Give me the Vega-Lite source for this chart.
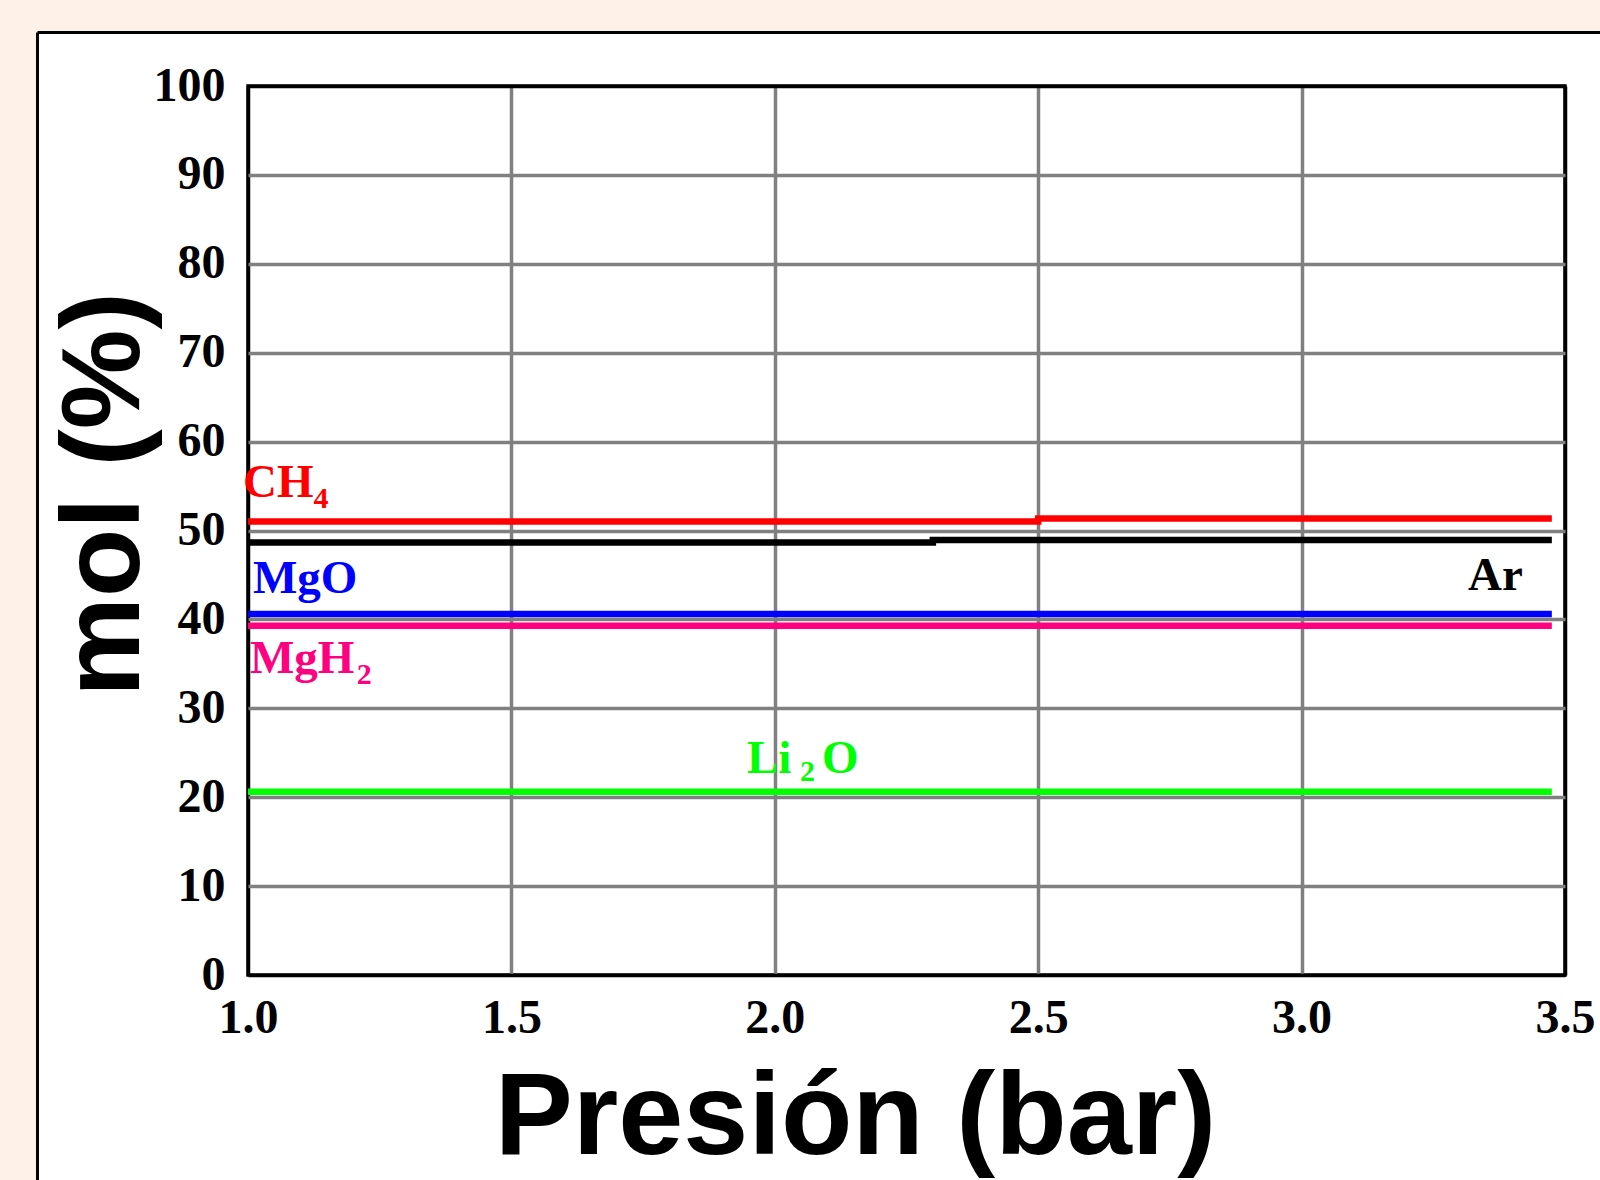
{
  "$schema": "https://vega.github.io/schema/vega-lite/v6.json",
  "width": 1317,
  "height": 889,
  "autosize": {"type": "none"},
  "padding": {"left": 248, "top": 86, "right": 35, "bottom": 205},
  "background": "white",
  "config": {
    "view": {"stroke": "black", "strokeWidth": 3.5, "fill": "white"}
  },
  "datasets": {
    "series": [
      {"species": "CH4", "x": 1, "y": 51.0},
      {"species": "CH4", "x": 2.5, "y": 51.36},
      {"species": "CH4", "x": 3.475, "y": 51.36},
      {"species": "Ar", "x": 1, "y": 48.64},
      {"species": "Ar", "x": 2.3, "y": 48.93},
      {"species": "Ar", "x": 3.475, "y": 48.93},
      {"species": "MgO", "x": 1, "y": 40.6},
      {"species": "MgO", "x": 3.475, "y": 40.6},
      {"species": "MgH2", "x": 1, "y": 39.28},
      {"species": "MgH2", "x": 3.475, "y": 39.28},
      {"species": "Li2O", "x": 1, "y": 20.6},
      {"species": "Li2O", "x": 3.475, "y": 20.6}
    ],
    "labels": [
      {"species": "CH4", "label": "CH", "x": 0.9905, "y": 53.8},
      {"species": "MgO", "label": "MgO", "x": 1.0095, "y": 43.0},
      {"species": "MgH2", "label": "MgH", "x": 1.0038, "y": 33.99},
      {"species": "Li2O", "label": "Li", "x": 1.9472, "y": 22.73},
      {"species": "Li2O", "label": "O", "x": 2.0896, "y": 22.73},
      {"species": "Ar", "label": "Ar", "x": 3.3159, "y": 43.33}
    ],
    "subs": [
      {"species": "CH4", "label": "4", "x": 1.1245, "y": 52.56},
      {"species": "MgH2", "label": "2", "x": 1.2065, "y": 32.75},
      {"species": "Li2O", "label": "2", "x": 2.0478, "y": 21.83}
    ],
    "strips": [
      {"x": 0.5, "x2": 3.7, "y": 106.13, "y2": 112},
      {"x": 0.5, "x2": 0.5976, "y": -30, "y2": 112}
    ],
    "frame": [
      {"x": 0.6004, "x2": 3.7, "y": 106.02, "y2": 106.02},
      {"x": 0.6004, "x2": 0.6004, "y": 106.02, "y2": -30}
    ]
  },
  "encoding": {
    "x": {
      "field": "x",
      "type": "quantitative",
      "scale": {"domain": [1, 3.5], "nice": false, "zero": false},
      "axis": {
        "title": "Presión (bar)",
        "values": [1, 1.5, 2, 2.5, 3, 3.5],
        "format": ".1f",
        "grid": true,
        "gridColor": {"condition": {"test": "datum.value === 1 || datum.value === 3.5", "value": "black"}, "value": "#808080"},
        "gridWidth": 3.5,
        "gridOpacity": 1,
        "domain": false,
        "ticks": false,
        "tickSize": 0,
        "labelFont": "Liberation Serif",
        "labelFontWeight": "bold",
        "labelFontSize": 48,
        "labelColor": "black",
        "labelPadding": 19,
        "labelOverlap": false,
        "labelBound": false,
        "labelFlush": false,
        "titleFont": "Liberation Sans",
        "titleFontWeight": "bold",
        "titleFontSize": 117,
        "titleColor": "black",
        "titleX": 607,
        "titleY": 178,
        "titleBaseline": "alphabetic"
      }
    },
    "y": {
      "field": "y",
      "type": "quantitative",
      "scale": {"domain": [0, 100], "nice": false, "zero": false},
      "axis": {
        "title": "mol (%)",
        "values": [0, 10, 20, 30, 40, 50, 60, 70, 80, 90, 100],
        "grid": true,
        "gridColor": {"condition": {"test": "datum.value === 0 || datum.value === 100", "value": "black"}, "value": "#808080"},
        "gridWidth": 3.5,
        "gridOpacity": 1,
        "domain": false,
        "ticks": false,
        "tickSize": 0,
        "labelFont": "Liberation Serif",
        "labelFontWeight": "bold",
        "labelFontSize": 48,
        "labelColor": "black",
        "labelPadding": 23,
        "labelOverlap": false,
        "labelBound": false,
        "labelFlush": false,
        "titleFont": "Liberation Sans",
        "titleFontWeight": "bold",
        "titleFontSize": 112,
        "titleColor": "black",
        "titleAngle": -90,
        "titleX": -110,
        "titleY": 408,
        "titleAlign": "center",
        "titleBaseline": "alphabetic"
      }
    }
  },
  "layer": [
    {
      "data": {"name": "strips"},
      "mark": {"type": "rect", "fill": "#FDF1E8", "clip": false},
      "encoding": {"x2": {"field": "x2"}, "y2": {"field": "y2"}}
    },
    {
      "data": {"name": "frame"},
      "mark": {"type": "rule", "color": "black", "strokeWidth": 3, "clip": false},
      "encoding": {"x2": {"field": "x2"}, "y2": {"field": "y2"}}
    },
    {
      "data": {"name": "series"},
      "mark": {"type": "line", "interpolate": "step-after", "strokeWidth": 6.5},
      "encoding": {
        "color": {
          "field": "species",
          "type": "nominal",
          "scale": {"domain": ["CH4", "Ar", "MgO", "MgH2", "Li2O"], "range": ["#FF0000", "#000000", "#0000FF", "#FF0080", "#00FF00"]},
          "legend": null
        },
        "detail": {"field": "species"}
      }
    },
    {
      "data": {"name": "labels"},
      "mark": {"type": "text", "font": "Liberation Serif", "fontWeight": "bold", "fontSize": 47, "align": "left", "baseline": "alphabetic", "clip": false},
      "encoding": {
        "text": {"field": "label"},
        "color": {"field": "species", "type": "nominal", "legend": null}
      }
    },
    {
      "data": {"name": "subs"},
      "mark": {"type": "text", "font": "Liberation Serif", "fontWeight": "bold", "fontSize": 30, "align": "left", "baseline": "alphabetic", "clip": false},
      "encoding": {
        "text": {"field": "label"},
        "color": {"field": "species", "type": "nominal", "legend": null}
      }
    }
  ]
}
